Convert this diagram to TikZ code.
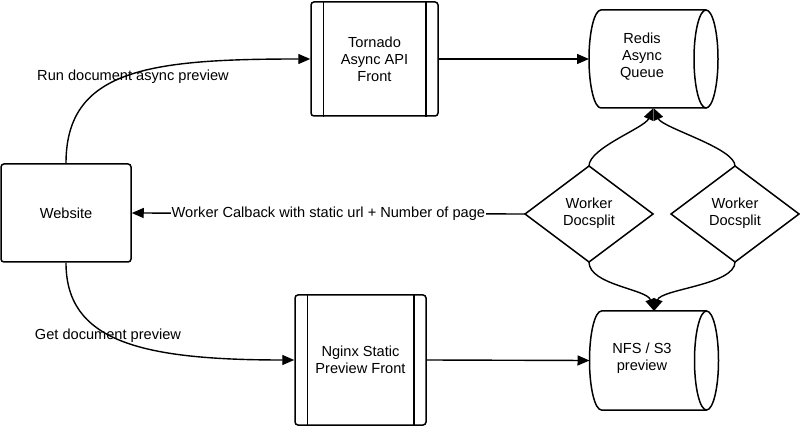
\documentclass[tikz,border=0pt]{standalone}
\usepackage{fontspec}
\setmainfont{Liberation Sans}
\usetikzlibrary{arrows.meta,calc}
\begin{document}
\begin{tikzpicture}[x=1pt,y=-1pt,
  line width=1.4pt,
  every node/.style={font=\fontsize{14.6}{17}\selectfont, inner sep=0pt, align=center},
  boxshape/.style={draw, rounded corners=3pt, line width=1.5pt},
  ghost/.style={inner sep=0pt, outer sep=0pt},
  conn/.style={line width=1.4pt, -{Triangle[length=12pt,width=10pt]}},
  lbl/.style={inner sep=1pt}
]
\path[use as bounding box, fill=white] (0,0) rectangle (800,427);

% Website
\node[boxshape, minimum width=130pt, minimum height=98pt] (web) at (66,213) {Website};

% Tornado
\node[boxshape, minimum width=127pt, minimum height=114pt] (tor) at (374.5,59) {Tornado\\Async API\\Front};
\draw[line width=1.5pt] ([xshift=13pt]tor.north west) -- ([xshift=13pt]tor.south west);
\draw[line width=1.5pt] ([xshift=-13pt]tor.north east) -- ([xshift=-13pt]tor.south east);

% Nginx
\node[boxshape, minimum width=131pt, minimum height=130pt] (ngx) at (360.5,360) {Nginx Static\\Preview Front};
\draw[line width=1.5pt] ([xshift=13pt]ngx.north west) -- ([xshift=13pt]ngx.south west);
\draw[line width=1.5pt] ([xshift=-13pt]ngx.north east) -- ([xshift=-13pt]ngx.south east);

% Redis cylinder
\node[ghost, minimum width=129pt, minimum height=98pt] (redis) at (653.5,59) {};
\draw[line width=1.5pt] ([xshift=-12pt]redis.north east) -- ([xshift=12pt]redis.north west)
  arc[start angle=90, end angle=270, x radius=12pt, y radius=49pt] -- ([xshift=-12pt]redis.south east);
\draw[line width=1.5pt] ([xshift=-12pt]redis.east) ellipse[x radius=12pt, y radius=49pt];
\node (redist) at (642,57) {Redis\\Async\\Queue};

% NFS cylinder
\node[ghost, minimum width=129pt, minimum height=99pt] (nfs) at (654,360.5) {};
\draw[line width=1.5pt] ([xshift=-12pt]nfs.north east) -- ([xshift=12pt]nfs.north west)
  arc[start angle=90, end angle=270, x radius=12pt, y radius=49.5pt] -- ([xshift=-12pt]nfs.south east);
\draw[line width=1.5pt] ([xshift=-12pt]nfs.east) ellipse[x radius=12pt, y radius=49.5pt];
\node (nfst) at (642,358) {NFS / S3\\preview};

% Diamonds
\node[ghost, minimum width=128pt, minimum height=96pt] (d1) at (589,214) {};
\draw[line width=1.5pt] (d1.north) -- (d1.east) -- (d1.south) -- (d1.west) -- cycle;
\node (d1t) at (589,213) {Worker\\Docsplit};
\node[ghost, minimum width=128pt, minimum height=96pt] (d2) at (735,214) {};
\draw[line width=1.5pt] (d2.north) -- (d2.east) -- (d2.south) -- (d2.west) -- cycle;
\node (d2t) at (735,213) {Worker\\Docsplit};

% Connectors
\draw[conn] (web.north) .. controls +(0,-94) and +(-161,0) .. (tor.west);
\node[lbl] (l1) at (133,77) {Run document async preview};
\draw[conn] (web.south) .. controls +(0,78) and +(-155,0) .. (ngx.west);
\node[lbl] (l2) at (108,336) {Get document preview};
\draw[conn] (tor.east) -- (redis.west);
\draw[conn] (ngx.east) -- (nfs.west);
\draw[conn] (d1.west) -- node[fill=white, inner sep=1pt] {Worker Calback with static url + Number of page} (web.east);
\draw[conn] (d1.north) .. controls +(0,-18) and +(-9,20) .. (redis.south);
\draw[conn] (d2.north) .. controls +(0,-18) and +(9,20) .. (redis.south);
\draw[conn] (d1.south) .. controls +(0,23) and +(-7,-22) .. (nfs.north);
\draw[conn] (d2.south) .. controls +(0,23) and +(7,-22) .. (nfs.north);
\end{tikzpicture}
\end{document}
